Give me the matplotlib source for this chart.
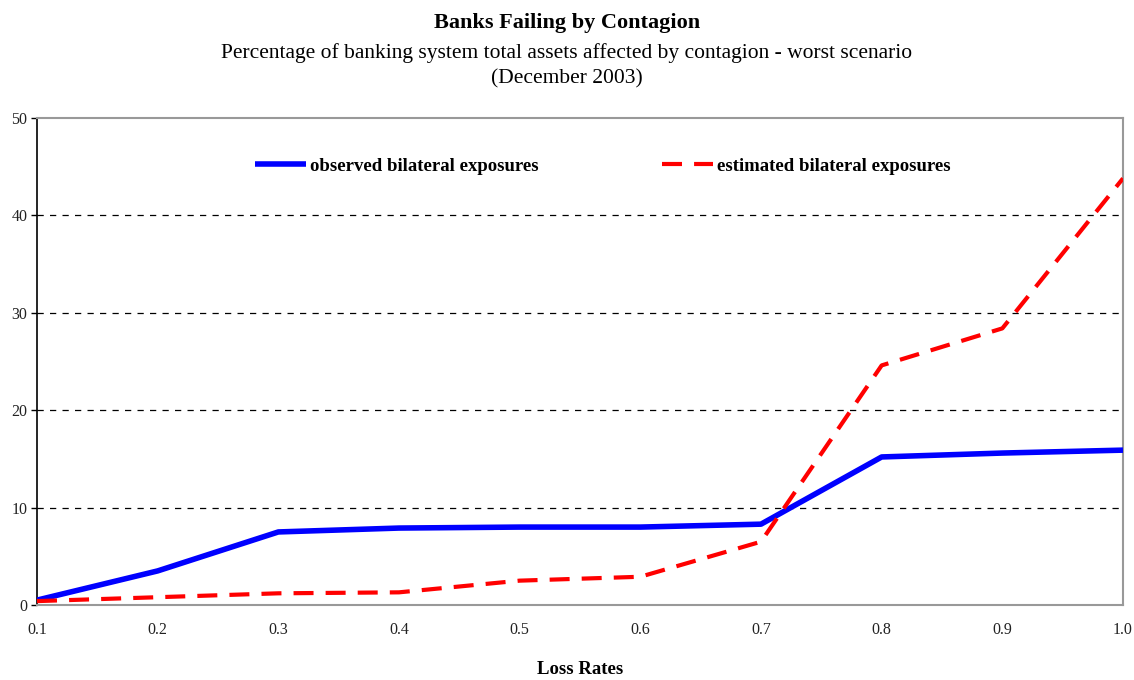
import matplotlib
matplotlib.use("Agg")
import matplotlib.pyplot as plt

loss_rates = [0.1, 0.2, 0.3, 0.4, 0.5, 0.6, 0.7, 0.8, 0.9, 1.0]
observed = [0.5, 3.5, 7.5, 7.9, 8.0, 8.0, 8.3, 15.2, 15.6, 15.9]
estimated = [0.4, 0.8, 1.2, 1.3, 2.5, 2.9, 6.5, 24.6, 28.4, 43.8]
x_ticks = [0.1, 0.2, 0.3, 0.4, 0.5, 0.6, 0.7, 0.8, 0.9, 1.0]
y_ticks = [0, 10, 20, 30, 40, 50]

plt.rcParams['font.family'] = ['Liberation Serif', 'DejaVu Serif']

fig = plt.figure(figsize=(11.34, 6.8), dpi=100)
ax = fig.add_axes([37/1134, 1-605/680, (1123-37)/1134, (605-118)/680])

ax.plot(loss_rates, observed, color='#0000ff', lw=4, solid_capstyle='butt',
        label='observed bilateral exposures', zorder=3)
ax.plot(loss_rates, estimated, color='#ff0000', lw=3, dashes=(4.8, 2.9),
        label='estimated bilateral exposures', zorder=3)

ax.set_xlim(0.1, 1.0)
ax.set_ylim(0, 50)
ax.set_xticks(x_ticks)
ax.set_xticklabels([f"{v:.1f}" for v in x_ticks])
ax.set_yticks(y_ticks)
ax.set_yticklabels([str(v) for v in y_ticks])
ax.tick_params(axis='x', length=0, labelsize=11.5, pad=12, colors='#222222')
ax.tick_params(axis='y', length=4, width=1, direction='out', labelsize=11.5, pad=3, colors='#222222')
ax.tick_params(axis='y', color='black')

for yv in [10, 20, 30, 40]:
    ax.axhline(yv, color='black', lw=0.9, dashes=(5, 5), zorder=1)

for side in ['top', 'right', 'bottom']:
    ax.spines[side].set_color('#999999')
    ax.spines[side].set_linewidth(1.5)
ax.spines['left'].set_color('black')
ax.spines['left'].set_linewidth(1.2)

ax.set_xlabel('Loss Rates', fontsize=13.5, fontweight='bold', labelpad=17)

leg = ax.legend(loc='center', bbox_to_anchor=(0.521, 0.901), ncol=2, frameon=False,
                prop={'weight': 'bold', 'size': 13.5}, handlelength=2.7,
                handletextpad=0.2, columnspacing=6.6)

fig.text(0.5, 1-23/680, 'Banks Failing by Contagion', ha='center', va='center',
         fontsize=16, fontweight='bold')
fig.text(0.5, 1-53/680, 'Percentage of banking system total assets affected by contagion - worst scenario',
         ha='center', va='center', fontsize=15.5)
fig.text(0.5, 1-79/680, '(December 2003)', ha='center', va='center', fontsize=15.5)

fig.savefig('out.png', dpi=100)
